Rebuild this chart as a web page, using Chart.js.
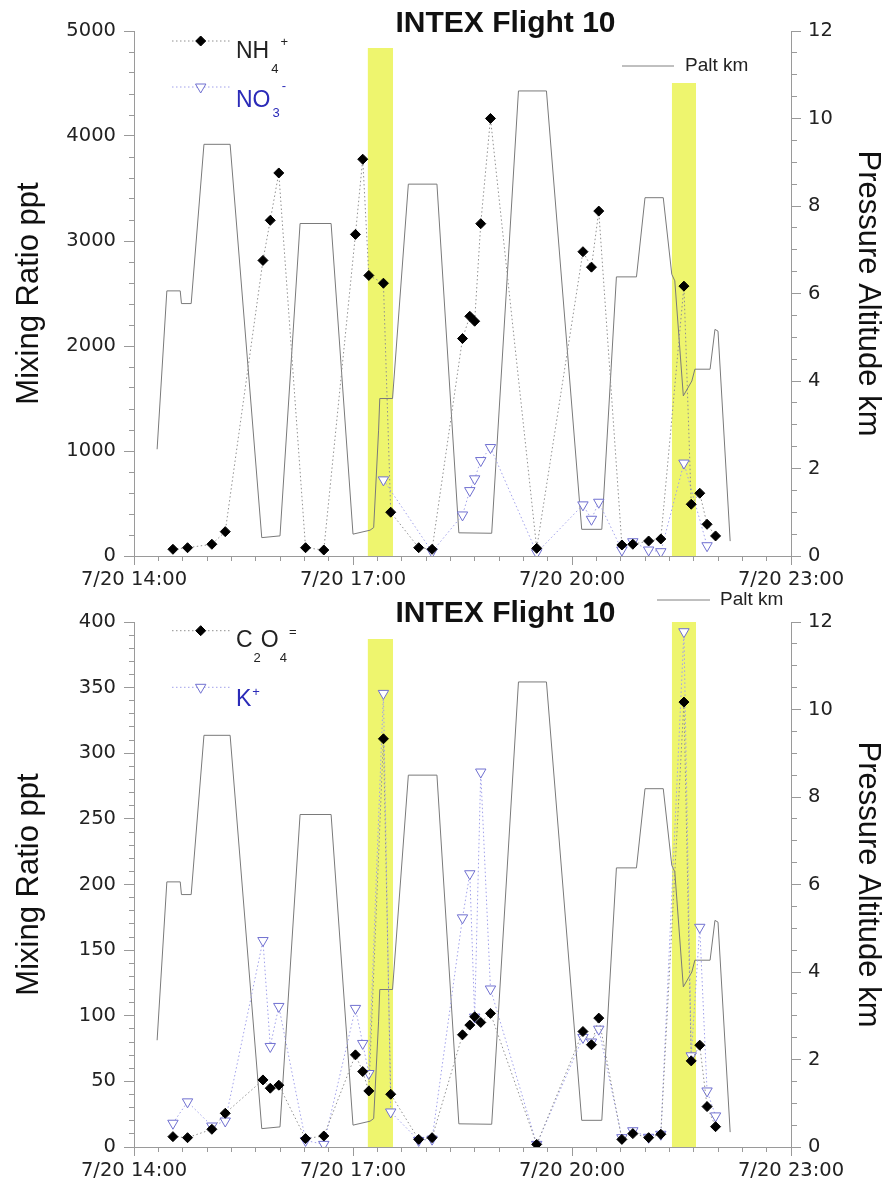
<!DOCTYPE html>
<html><head><meta charset="utf-8">
<script src="https://cdn.jsdelivr.net/npm/chart.js@4.4.1/dist/chart.umd.min.js"></script>
<style>
html,body{margin:0;padding:0;background:#fff;}
canvas{display:block;}
</style></head>
<body>
<canvas id="c1" width="883" height="591"></canvas>
<canvas id="c2" width="883" height="591"></canvas>
<script>
// ---- data (x in minutes since 00:00 on 7/20) ----
const sampleTimes = [872,884,904,915,946,952,959,981,996,1022,1028,1033,1045,1051,1074,1085,1110,1116,1120,1125,1133,1171,1209,1216,1222,1241,1250,1263,1273,1292,1298,1305,1311,1318];
const nh4 = [64,79,112,232,2815,3197,3648,79,57,3063,3779,2672,2598,417,79,64,2071,2283,2236,3165,4167,73,2898,2751,3285,105,112,143,162,2570,493,598,302,191];
const no3 = [null,null,null,null,null,null,null,null,null,null,null,null,725,null,null,40,391,623,735,909,1033,31,487,350,512,57,136,57,41,885,null,null,98,null];
const c2o4 = [7.9,7.1,13.5,25.7,51.1,44.8,47.1,6.4,8.4,70.2,57.5,42.7,311,40.2,5.8,7.1,85.5,92.9,99.2,94.9,101.8,2,88,77.9,98.2,5.8,10.2,7.1,9.7,339,65.6,77.6,30.8,15.5];
const kPlus = [18.1,34.4,16,19.8,157.3,76.6,107.1,5,2.0,105.6,78.9,56,345.6,26.7,5,6,174.6,208.2,99,285.7,120.4,2.0,83.5,80,89.8,7.1,12.4,7.4,9.7,392.6,69.5,167.4,42.7,23.7];
const paltTimes = [859,867,878,879,887,897.5,919,945,960,976.5,1002,1020,1034,1037,1041,1042,1052.5,1065.5,1089,1107,1134,1156,1179,1208,1224.5,1236.5,1253,1260,1275,1282,1284.5,1291.5,1298.5,1301,1313.5,1317.5,1320,1330];
const paltKm = [2.44,6.06,6.06,5.77,5.77,9.41,9.41,0.42,0.46,7.6,7.6,0.5,0.59,0.65,2.86,3.6,3.6,8.5,8.5,0.53,0.52,10.63,10.63,0.61,0.61,6.38,6.38,8.19,8.19,6.44,6.29,3.66,4.0,4.27,4.27,5.18,5.14,0.34];
const bandStart = [1032, 1282];
const bandEnd = [1053, 1302];
const bandTopUpper = [4838, 4504];   // ppt, upper panel
const bandTopLower = [387, 400];     // ppt, lower panel
// tick labels
const timeTickValues = [840, 1020, 1200, 1380];
const timeTickLabels = ['7/20 14:00', '7/20 17:00', '7/20 20:00', '7/20 23:00'];
const upperPptLabels = [0,1000,2000,3000,4000,5000];
const lowerPptLabels = [0,50,100,150,200,250,300,350,400];
const altLabels = [0,2,4,6,8,10,12];

const TICK_FONT = {family: '"DejaVu Sans", sans-serif', size: 19.5};
const TITLE_FONT = '"Liberation Sans", Arial, sans-serif';
const GRAY = '#9a9a9a';
const YELLOW = '#eef56e';
const BLUE_TXT = '#2b2bb8';

function has(arr, v){ return arr.some(a => Math.abs(a - v) < 1e-6); }
function pts(xs, ys){ return xs.map((x,i)=>({x:x, y:ys[i]})); }

function drawDiamond(ctx, x, y, r){
  ctx.beginPath(); ctx.moveTo(x-r,y); ctx.lineTo(x,y-r); ctx.lineTo(x+r,y); ctx.lineTo(x,y+r); ctx.closePath();
  ctx.fillStyle='#000'; ctx.fill(); ctx.strokeStyle='#000'; ctx.lineWidth=1; ctx.stroke();
}
function drawTri(ctx, x, y, r){
  ctx.beginPath(); ctx.moveTo(x, y+r); ctx.lineTo(x-r*0.866, y-r/2); ctx.lineTo(x+r*0.866, y-r/2); ctx.closePath();
  ctx.fillStyle='#fff'; ctx.fill(); ctx.strokeStyle='#7070d0'; ctx.lineWidth=1; ctx.stroke();
}

const overlay = {
  id: 'overlay',
  afterDraw(chart, args, o){
    const ctx = chart.ctx;
    ctx.save();
    ctx.font = 'bold 30px ' + TITLE_FONT;
    ctx.fillStyle = '#111'; ctx.textAlign = 'center'; ctx.textBaseline = 'alphabetic';
    ctx.fillText(o.title, o.titleX, o.titleY);
    for (const e of o.entries){
      ctx.beginPath();
      ctx.setLineDash(e.solid ? [] : [1.5, 2.5]);
      ctx.strokeStyle = e.lineColor; ctx.lineWidth = 1;
      ctx.moveTo(e.x0, e.y); ctx.lineTo(e.x1, e.y); ctx.stroke();
      ctx.setLineDash([]);
      if (e.marker === 'diamond') drawDiamond(ctx, e.mx, e.y, 5);
      if (e.marker === 'tri') drawTri(ctx, e.mx, e.y, 6);
      let x = e.tx;
      ctx.textAlign = 'left';
      ctx.fillStyle = e.textColor;
      for (const s of e.text){
        ctx.font = s.size + 'px ' + TITLE_FONT;
        ctx.textBaseline = s.mid ? 'middle' : 'alphabetic';
        x += (s.dx || 0);
        ctx.fillText(s.t, x, s.y);
        x += ctx.measureText(s.t).width;
      }
    }
    ctx.restore();
  }
};

function yScale(pos, max, step, labels, width, title, titlePad){
  return {
    type: 'linear', position: pos, min: 0, max: max,
    ticks: {stepSize: step, maxTicksLimit: 1000, autoSkip: false, color: '#222', font: TICK_FONT,
            padding: pos === 'left' ? 8 : 7,
            callback: v => has(labels, v) ? String(v) : ''},
    grid: {drawOnChartArea: false, tickLength: 10, tickColor: GRAY, tickWidth: 1,
           tickBorderDash: c => (c.tick && has(labels, c.tick.value)) ? [] : (pos === 'left' ? [0, 5, 5, 100] : [5, 100])},
    border: {color: GRAY, width: 1},
    title: {display: true, text: title, color: '#111', font: {family: TITLE_FONT, size: 31, lineHeight: 1}, padding: {top: titlePad, bottom: 0}},
    afterFit: s => { s.width = width; }
  };
}

function makeChart(id, leftMax, leftStep, leftLabels, series, bandTop, overlayOpts){
  const datasets = [
    {label: series[0].name, data: pts(sampleTimes, series[0].data), yAxisID: 'y', order: 1,
     borderColor: '#909090', borderWidth: 1, borderDash: [1.5, 2.5], spanGaps: true,
     pointStyle: 'rectRot', pointRadius: 5, pointBackgroundColor: '#000', pointBorderColor: '#000', pointBorderWidth: 1},
    {label: series[1].name, data: pts(sampleTimes, series[1].data), yAxisID: 'y', order: 2,
     borderColor: '#a0a0ea', borderWidth: 1, borderDash: [1.5, 2.5], spanGaps: true,
     pointStyle: 'triangle', pointRotation: 180, pointRadius: 6, pointBackgroundColor: '#fff', pointBorderColor: '#7070d0', pointBorderWidth: 1},
    {label: 'Palt km', data: pts(paltTimes, paltKm), yAxisID: 'y2', order: 5,
     borderColor: '#7a7a7a', borderWidth: 1, pointRadius: 0, tension: 0}
  ];
  for (let i = 0; i < bandStart.length; i++){
    datasets.push({label: 'band' + i, data: [{x: bandStart[i], y: bandTop[i]}, {x: bandEnd[i], y: bandTop[i]}],
      yAxisID: 'y', order: 10, fill: 'origin', backgroundColor: YELLOW, borderWidth: 0, borderColor: 'rgba(0,0,0,0)', pointRadius: 0});
  }
  return new Chart(document.getElementById(id), {
    type: 'line',
    data: {datasets},
    plugins: [overlay],
    options: {
      responsive: false, animation: false, events: [],
      layout: {padding: {top: 31, left: 0, right: 0, bottom: 0}},
      plugins: {legend: {display: false}, tooltip: {enabled: false}, title: {display: false}, overlay: overlayOpts},
      scales: {
        x: {type: 'linear', position: 'bottom', min: 840, max: 1380,
            ticks: {stepSize: 20, maxTicksLimit: 1000, autoSkip: false, maxRotation: 0, minRotation: 0, padding: 3,
                    color: '#222', font: TICK_FONT,
                    callback: v => { const k = timeTickValues.findIndex(t => Math.abs(t - v) < 1e-6); return k >= 0 ? timeTickLabels[k] : ''; }},
            grid: {drawOnChartArea: false, tickLength: 9, tickColor: GRAY, tickWidth: 1,
                   tickBorderDash: c => (c.tick && has(timeTickValues, c.tick.value)) ? [] : [4, 100]},
            border: {color: GRAY, width: 1},
            afterFit: s => { s.height = 35; }},
        y: yScale('left', leftMax, leftStep, leftLabels, 134, 'Mixing Ratio ppt', 14),
        y2: yScale('right', 12, 0.5, altLabels, 92, 'Pressure Altitude km', 0)
      }
    }
  });
}

makeChart('c1', 5000, 200, upperPptLabels,
  [{name: 'NH4+', data: nh4}, {name: 'NO3-', data: no3}], bandTopUpper,
  {title: 'INTEX Flight 10', titleX: 505.5, titleY: 32, entries: [
    {x0: 172, x1: 230, y: 41, lineColor: '#909090', marker: 'diamond', mx: 200.7, tx: 236, textColor: '#222',
     text: [{t: 'NH', size: 23, y: 58}, {t: '4', size: 13, y: 73, dx: 2}, {t: '+', size: 13, y: 46, dx: 2}]},
    {x0: 172, x1: 230, y: 87, lineColor: '#a0a0ea', marker: 'tri', mx: 200.7, tx: 236, textColor: BLUE_TXT,
     text: [{t: 'NO', size: 23, y: 107}, {t: '3', size: 13, y: 117, dx: 2}, {t: '-', size: 13, y: 90, dx: 2}]},
    {x0: 622, x1: 674, y: 66, lineColor: '#808080', solid: true, marker: null, tx: 685, textColor: '#222',
     text: [{t: 'Palt km', size: 19, y: 66, mid: true}]}
  ]});

makeChart('c2', 400, 10, lowerPptLabels,
  [{name: 'C2O4=', data: c2o4}, {name: 'K+', data: kPlus}], bandTopLower,
  {title: 'INTEX Flight 10', titleX: 505.5, titleY: 31, entries: [
    {x0: 172, x1: 230, y: 39.7, lineColor: '#909090', marker: 'diamond', mx: 200.7, tx: 236, textColor: '#222',
     text: [{t: 'C', size: 23, y: 56}, {t: '2', size: 13, y: 71, dx: 1}, {t: 'O', size: 23, y: 56}, {t: '4', size: 13, y: 71, dx: 1}, {t: '=', size: 13, y: 45, dx: 2}]},
    {x0: 172, x1: 230, y: 96.3, lineColor: '#a0a0ea', marker: 'tri', mx: 200.7, tx: 236, textColor: BLUE_TXT,
     text: [{t: 'K', size: 23, y: 115}, {t: '+', size: 13, y: 105, dx: 1}]},
    {x0: 657, x1: 710, y: 9, lineColor: '#808080', solid: true, marker: null, tx: 720, textColor: '#222',
     text: [{t: 'Palt km', size: 19, y: 9, mid: true}]}
  ]});
</script>
</body></html>
